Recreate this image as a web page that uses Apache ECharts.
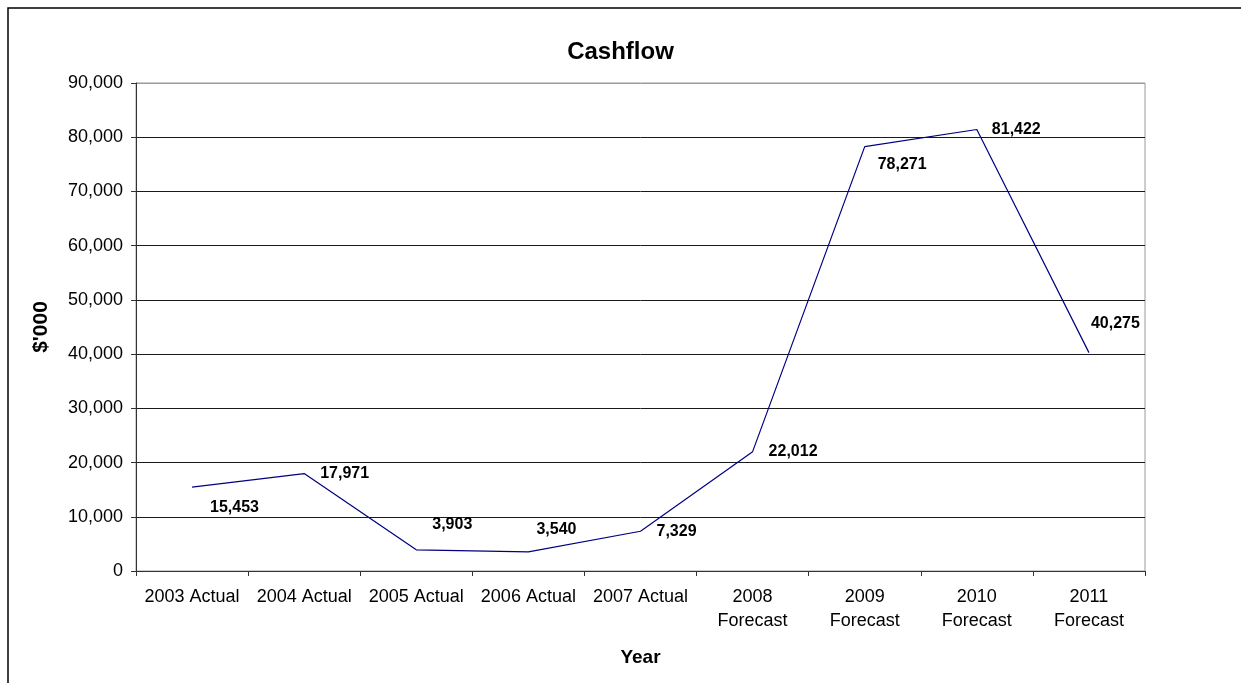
<!DOCTYPE html>
<html>
<head>
<meta charset="utf-8">
<title>Cashflow</title>
<script src="https://cdn.jsdelivr.net/npm/echarts@6/dist/echarts.min.js"></script>
<style>
    html, body { margin: 0; padding: 0; background: #fff; }
    #main { width: 1241px; height: 683px; }
</style>
</head>
<body>
<div id="main"></div>
<script>
/** Year categories (x axis) */
var years = ['2003 Actual', '2004 Actual', '2005 Actual', '2006 Actual', '2007 Actual',
    '2008\nForecast', '2009\nForecast', '2010\nForecast', '2011\nForecast'];

/** Cashflow per year ($'000) */
var cashflow = [15453, 17971, 3903, 3540, 7329, 22012, 78271, 81422, 40275];

/** Y axis range */
var yMin = 0;
var yMax = 90000;
var yStep = 10000;

/** Where each value label sits relative to its point (px) */
var labelOffsets = [[17, 20], [15, 0], [15, -25], [7, -22], [15, 0], [15, 0], [12, 18], [14, 0], [1, -29]];

var font = '"Liberation Sans", Arial, sans-serif';

/**
 * format 12345 -> 12,345
 */
function thousands(v) {
    return String(v).replace(/\B(?=(\d{3})+(?!\d))/g, ',');
}

/**
 * render chart
 */
function draw() {
    var myChart = echarts.init(document.getElementById('main'));

    // one colour per split line, the top one is grey like the plot border
    var splitColors = [];
    for (var v = yMin; v <= yMax; v += yStep) {
        splitColors.push(v == yMax ? '#9a9a9a' : '#1a1a1a');
    }

    var option = {
        backgroundColor: '#fff',
        animation: false,
        title: {
            text: 'Cashflow',
            left: 'center',
            top: 35,
            textStyle: { fontFamily: font, fontSize: 24, fontWeight: 'bold', color: '#000' }
        },
        graphic: [{
            // outer frame (clipped on the right and bottom)
            type: 'rect',
            shape: { x: 8, y: 8, width: 1400, height: 900 },
            style: { fill: null, stroke: '#000', lineWidth: 1.5 },
            silent: true
        }],
        grid: {
            left: 136,
            top: 83,
            right: 96,
            bottom: 112,
            show: true,
            borderColor: '#9a9a9a',
            borderWidth: 1,
            backgroundColor: '#fff'
        },
        xAxis: {
            type: 'category',
            data: years,
            boundaryGap: true,
            name: 'Year',
            nameLocation: 'middle',
            nameGap: 77,
            nameTextStyle: { fontFamily: font, fontSize: 19, fontWeight: 'bold', color: '#000' },
            axisLine: { lineStyle: { color: '#333', width: 1 } },
            axisTick: { show: true, length: 5, alignWithLabel: false, lineStyle: { color: '#333' } },
            axisLabel: {
                interval: 0,
                margin: 14,
                fontFamily: font,
                fontSize: 18,
                lineHeight: 24,
                color: '#000'
            },
            splitLine: { show: false }
        },
        yAxis: {
            type: 'value',
            min: yMin,
            max: yMax,
            interval: yStep,
            name: "$'000",
            nameLocation: 'middle',
            nameGap: 84,
            nameRotate: 90,
            nameTextStyle: { fontFamily: font, fontSize: 21, fontWeight: 'bold', color: '#000' },
            axisLine: { show: true, lineStyle: { color: '#333', width: 1 } },
            axisTick: { show: true, length: 5, lineStyle: { color: '#333' } },
            axisLabel: {
                margin: 13,
                fontFamily: font,
                fontSize: 18,
                color: '#000',
                formatter: function (v) { return thousands(v); }
            },
            splitLine: { show: true, lineStyle: { color: splitColors, width: 1 } }
        },
        series: [{
            name: 'Cashflow',
            type: 'line',
            data: cashflow,
            // transparent symbol so the value labels still get drawn
            symbol: 'circle',
            symbolSize: 2,
            showSymbol: true,
            lineStyle: { color: '#000080', width: 1.2 },
            itemStyle: { color: 'rgba(0,0,0,0)', borderWidth: 0 },
            label: {
                show: true,
                position: 'right',
                distance: 0,
                fontFamily: font,
                fontSize: 16,
                fontWeight: 'bold',
                color: '#000',
                formatter: function (p) { return thousands(p.value); }
            },
            // nudge every label to where the original puts it
            labelLayout: function (params) {
                var off = labelOffsets[params.dataIndex];
                return { dx: off[0], dy: off[1], hideOverlap: false };
            },
            z: 5
        }]
    };

    myChart.setOption(option);
}

draw();
</script>
</body>
</html>
